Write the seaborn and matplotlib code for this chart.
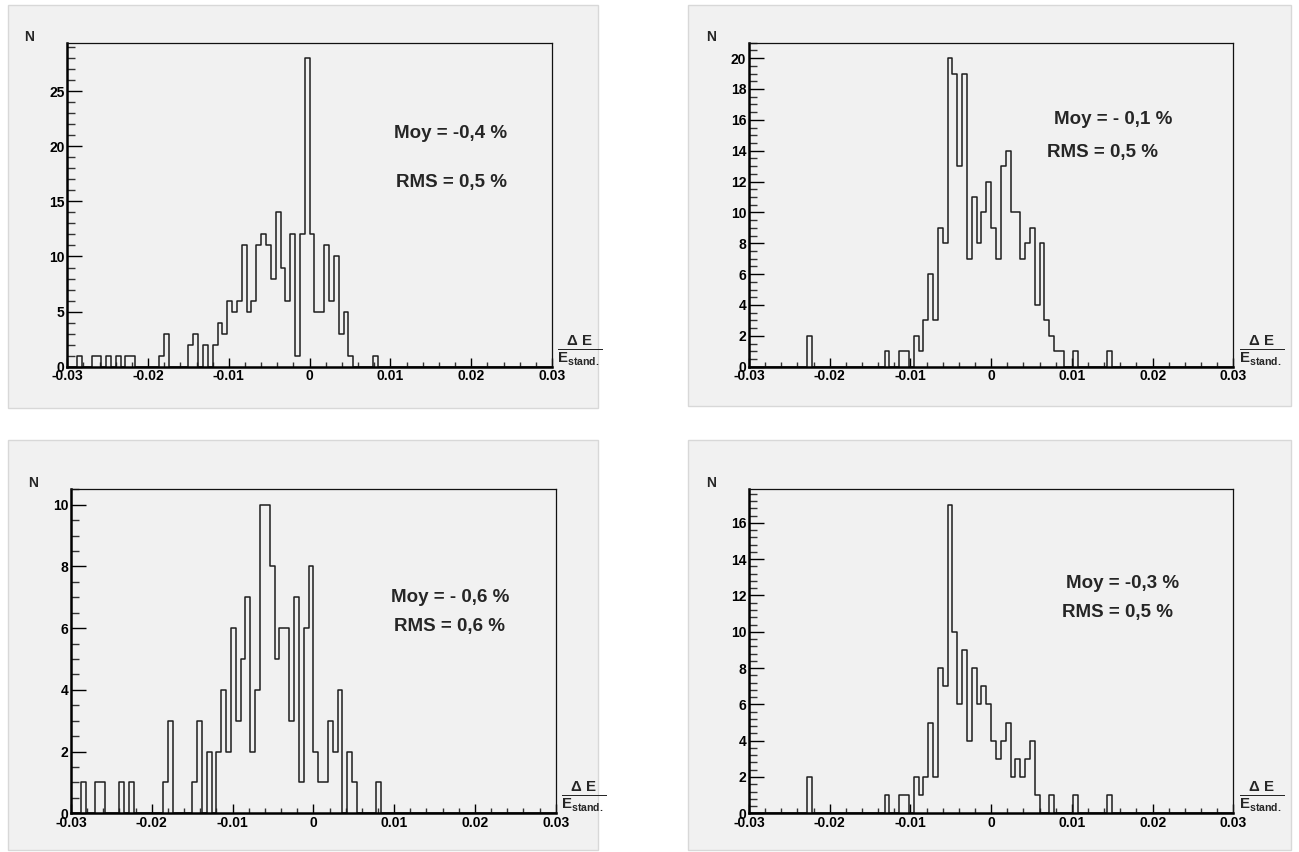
import numpy as np
import pandas as pd
import seaborn as sns
import matplotlib
matplotlib.use('Agg')
import matplotlib.pyplot as plt
from matplotlib.patches import Rectangle
from matplotlib.ticker import MultipleLocator, FixedLocator, FixedFormatter

sns.set_theme(style='ticks')
plt.rcParams['font.family'] = ['Liberation Sans', 'DejaVu Sans']
plt.rcParams['font.weight'] = 'bold'
plt.rcParams['mathtext.fontset'] = 'custom'
plt.rcParams['mathtext.rm'] = 'Liberation Sans:bold'
plt.rcParams['mathtext.bf'] = 'Liberation Sans:bold'
plt.rcParams['mathtext.it'] = 'Liberation Sans:bold'

# histograms: 100 bins of width 0.0006 between -0.03 and 0.03
# only the non-empty bins are listed (bin index, count)
x_lo, x_hi, n_bins = -0.03, 0.03, 100

bins_1 = [2, 5, 6, 8, 10, 12, 13, 19, 20, 25, 26, 28, 30, 31, 32, 33, 34, 35, 36, 37, 38, 39, 40,
          41, 42, 43, 44, 45, 46, 47, 48, 49, 50, 51, 52, 53, 54, 55, 56, 57, 58, 63]
counts_1 = [1, 1, 1, 1, 1, 1, 1, 1, 3, 2, 3, 2, 2, 4, 3, 6, 5, 6, 11, 5, 6, 11, 12,
            11, 8, 14, 9, 6, 12, 1, 12, 28, 12, 5, 5, 11, 6, 10, 3, 5, 1, 1]

bins_2 = [12, 28, 31, 32, 34, 35, 36, 37, 38, 39, 40, 41, 42, 43, 44, 45, 46, 47, 48, 49, 50,
          51, 52, 53, 54, 55, 56, 57, 58, 59, 60, 61, 62, 63, 64, 67, 74]
counts_2 = [2, 1, 1, 1, 2, 1, 3, 6, 3, 9, 8, 20, 19, 13, 19, 7, 11, 8, 10, 12, 9,
            7, 13, 14, 10, 10, 7, 8, 9, 4, 8, 3, 2, 1, 1, 1, 1]

bins_3 = [2, 5, 6, 10, 12, 19, 20, 25, 26, 28, 30, 31, 32, 33, 34, 35, 36, 37, 38, 39, 40,
          41, 42, 43, 44, 45, 46, 47, 48, 49, 50, 51, 52, 53, 54, 55, 57, 58, 63]
counts_3 = [1, 1, 1, 1, 1, 1, 3, 1, 3, 2, 2, 4, 2, 6, 3, 5, 7, 2, 4, 10, 10,
            8, 5, 6, 6, 3, 7, 1, 6, 8, 2, 1, 1, 3, 2, 4, 2, 1, 1]

bins_4 = [12, 28, 31, 32, 34, 35, 36, 37, 38, 39, 40, 41, 42, 43, 44, 45, 46, 47, 48, 49, 50,
          51, 52, 53, 54, 55, 56, 57, 58, 59, 62, 67, 74]
counts_4 = [2, 1, 1, 1, 2, 1, 2, 5, 2, 8, 7, 17, 10, 6, 9, 4, 8, 6, 7, 6, 4,
            3, 4, 5, 2, 3, 2, 3, 4, 1, 1, 1, 1]

moy_texts = ['Moy = -0,4 %', 'Moy = - 0,1 %', 'Moy = - 0,6 %', 'Moy = -0,3 %']
rms_texts = ['RMS = 0,5 %', 'RMS = 0,5 %', 'RMS = 0,6 %', 'RMS = 0,5 %']

x_ticks = [-0.03, -0.02, -0.01, 0, 0.01, 0.02, 0.03]
x_tick_labels = ['-0.03', '-0.02', '-0.01', '0', '0.01', '0.02', '0.03']
y_major = [5, 2, 2, 2]
y_minor = [1, 0.5, 0.5, 0.4]

W, H = 1299, 852
pad_color = '#f1f1f1'

fig = plt.figure(figsize=(W / 100, H / 100), dpi=100)
fig.patch.set_facecolor('white')

# ROOT-like pads (pixels: x0, y0 top, x1, y1 bottom)
pads = [(8, 5, 598, 408), (688, 5, 1291, 406), (8, 440, 598, 850), (688, 440, 1291, 850)]
for x0, y0, x1, y1 in pads:
    fig.add_artist(Rectangle((x0 / W, 1 - y1 / H), (x1 - x0) / W, (y1 - y0) / H,
                             transform=fig.transFigure, facecolor=pad_color,
                             edgecolor='#d8d8d8', linewidth=1, zorder=0))

# axes frames in pixels: left, top, right, bottom
frames = [(67.3, 42.7, 552, 366.7), (749, 42.7, 1233.3, 366.7),
          (71, 489.3, 555.7, 813.3), (749, 489.3, 1233.3, 813.3)]
# stats text positions (pixels, right edge, y centre)
moy_pos = [(507, 133), (1172, 120), (509, 598), (1179, 583)]
rms_pos = [(507, 182), (1158, 153), (505, 627), (1173, 613)]

all_bins = [bins_1, bins_2, bins_3, bins_4]
all_counts = [counts_1, counts_2, counts_3, counts_4]
width = (x_hi - x_lo) / n_bins

for k in range(4):
    l, t, r, b = frames[k]
    ax = fig.add_axes([l / W, 1 - b / H, (r - l) / W, (b - t) / H])
    ax.set_facecolor(pad_color)
    df = pd.DataFrame({'x': x_lo + (np.array(all_bins[k]) + 0.5) * width,
                       'n': all_counts[k]})
    sns.histplot(data=df, x='x', weights='n', bins=n_bins, binrange=(x_lo, x_hi),
                 element='step', fill=False, color='#1e1e1e', linewidth=1.1, ax=ax)
    ax.set_xlim(x_lo, x_hi)
    ax.set_ylim(0, max(all_counts[k]) * 1.05)
    ax.set_xlabel('')
    ax.set_ylabel('')
    ax.grid(False)

    ax.xaxis.set_major_locator(FixedLocator(x_ticks))
    ax.xaxis.set_major_formatter(FixedFormatter(x_tick_labels))
    ax.xaxis.set_minor_locator(MultipleLocator(0.002))
    ax.yaxis.set_major_locator(MultipleLocator(y_major[k]))
    ax.yaxis.set_minor_locator(MultipleLocator(y_minor[k]))
    ax.tick_params(axis='x', which='major', direction='in', length=6.5, width=1,
                   pad=2, labelsize=10, colors='black')
    ax.tick_params(axis='x', which='minor', direction='in', length=3.6, width=1, colors='#333333')
    ax.tick_params(axis='y', which='major', direction='in', length=11, width=1,
                   pad=2, labelsize=10, colors='black')
    ax.tick_params(axis='y', which='minor', direction='in', length=5.5, width=1, colors='#333333')
    for lab in ax.get_xticklabels() + ax.get_yticklabels():
        lab.set_fontweight('bold')

    for side in ['top', 'right']:
        ax.spines[side].set_visible(True)
        ax.spines[side].set_linewidth(0.9)
        ax.spines[side].set_color('#111111')
    for side in ['left', 'bottom']:
        ax.spines[side].set_linewidth(1.8)
        ax.spines[side].set_color('black')

    # N label
    fig.text((l - 38) / W, 1 - (t - 6) / H, 'N', ha='center', va='center',
             fontsize=10, fontweight='bold')

    # Delta E / E_stand. label
    ax.text(1.058, 0.05, r'$\frac{\mathbf{\Delta\ E}}{\mathbf{E}_{\mathbf{stand.}}}$',
            transform=ax.transAxes, ha='center', va='center', fontsize=15.5)

    mx, my = moy_pos[k]
    fig.text(mx / W, 1 - my / H, moy_texts[k], ha='right', va='center',
             fontsize=13.5, fontweight='bold')
    rx, ry = rms_pos[k]
    fig.text(rx / W, 1 - ry / H, rms_texts[k], ha='right', va='center',
             fontsize=13.5, fontweight='bold')

fig.savefig('out.png', dpi=100)
